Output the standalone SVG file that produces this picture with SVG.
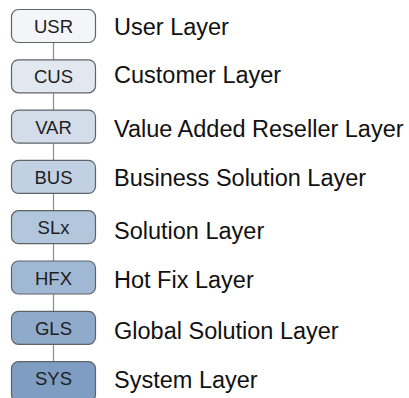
<svg xmlns="http://www.w3.org/2000/svg" width="409" height="398" viewBox="0 0 409 398">
  <style>
    .box { stroke: #5f6368; stroke-width: 1.2; }
    .code { font-family: "Liberation Sans", Arial, sans-serif; font-size: 18.5px; fill: #1e1e1e; text-anchor: middle; }
    .label { font-family: "Liberation Sans", Arial, sans-serif; font-size: 23.5px; fill: #111; }
    .link { stroke: #8c8c8c; stroke-width: 1.2; fill: none; }
  </style>
  <rect width="409" height="398" fill="#ffffff"/>

  <!-- vertical links between stacked layers -->
  <g id="connectors">
    <line class="link" x1="53.5" y1="42.5" x2="53.5" y2="60"/>
    <line class="link" x1="53.5" y1="92.8" x2="53.5" y2="110.3"/>
    <line class="link" x1="53.5" y1="143.1" x2="53.5" y2="160.6"/>
    <line class="link" x1="53.5" y1="193.4" x2="53.5" y2="210.9"/>
    <line class="link" x1="53.5" y1="243.7" x2="53.5" y2="261.2"/>
    <line class="link" x1="53.5" y1="294" x2="53.5" y2="311.5"/>
    <line class="link" x1="53.5" y1="344.3" x2="53.5" y2="361.8"/>
  </g>

  <g id="usr">
    <rect class="box" x="11.5" y="9.5" width="84" height="33" rx="7" fill="#f4f5f8"/>
    <text class="code" x="53.5" y="33">USR</text>
    <text class="label" x="114" y="35">User Layer</text>
  </g>
  <g id="cus">
    <rect class="box" x="11.5" y="59.8" width="84" height="33" rx="7" fill="#e2e8f0"/>
    <text class="code" x="53.5" y="83.3">CUS</text>
    <text class="label" x="114" y="83">Customer Layer</text>
  </g>
  <g id="var">
    <rect class="box" x="11.5" y="110.1" width="84" height="33" rx="7" fill="#d2dde9"/>
    <text class="code" x="53.5" y="133.6">VAR</text>
    <text class="label" x="114" y="137">Value Added Reseller Layer</text>
  </g>
  <g id="bus">
    <rect class="box" x="11.5" y="160.4" width="84" height="33" rx="7" fill="#c1d1e3"/>
    <text class="code" x="53.5" y="183.9">BUS</text>
    <text class="label" x="114" y="186">Business Solution Layer</text>
  </g>
  <g id="slx">
    <rect class="box" x="11.5" y="210.7" width="84" height="33" rx="7" fill="#b2c6dc"/>
    <text class="code" x="53.5" y="234.2">SLx</text>
    <text class="label" x="114" y="239">Solution Layer</text>
  </g>
  <g id="hfx">
    <rect class="box" x="11.5" y="261" width="84" height="33" rx="7" fill="#a1b8d4"/>
    <text class="code" x="53.5" y="284.5">HFX</text>
    <text class="label" x="114" y="288">Hot Fix Layer</text>
  </g>
  <g id="gls">
    <rect class="box" x="11.5" y="311.3" width="84" height="33" rx="7" fill="#90aacb"/>
    <text class="code" x="53.5" y="334.8">GLS</text>
    <text class="label" x="114" y="339">Global Solution Layer</text>
  </g>
  <g id="sys">
    <rect class="box" x="11.5" y="361.6" width="84" height="40" rx="7" fill="#7f9cc3"/>
    <text class="code" x="53.5" y="385.1">SYS</text>
    <text class="label" x="114" y="388">System Layer</text>
  </g>
</svg>
